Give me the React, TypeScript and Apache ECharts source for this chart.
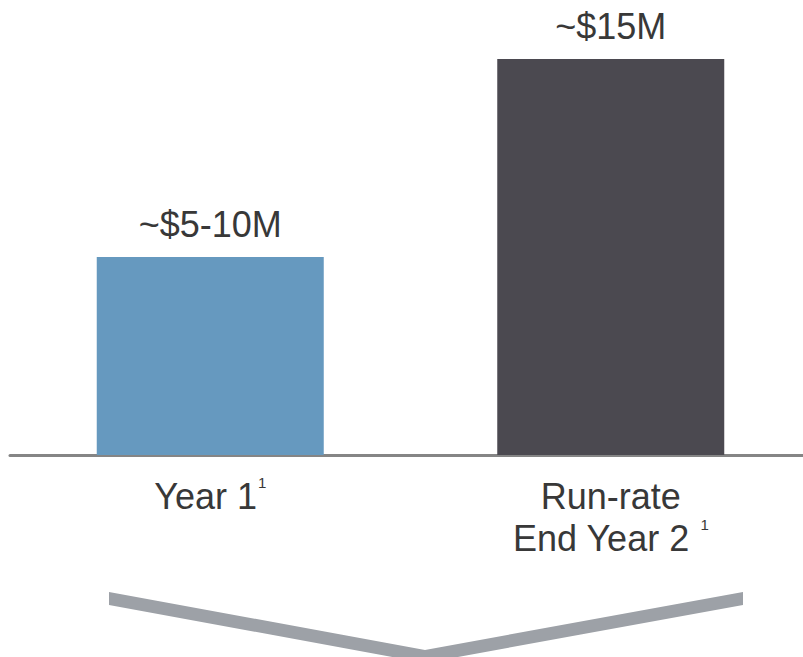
import React, { useEffect, useRef } from "react";
import * as echarts from "echarts";

const categories = ["Year 1", "Run-rate\nEnd Year 2"];
const footnotes = ["1", "1"];
const values = [7.5, 15];
const valueLabels = ["~$5-10M", "~$15M"];
const barColors = ["#6699BF", "#4B4950"];

export default function App() {
  const ref = useRef<HTMLDivElement>(null);
  useEffect(() => {
    document.body.style.margin = "0";
    const chart = echarts.init(ref.current!, undefined, { renderer: "svg" });
    const font = "'Liberation Sans', Arial, sans-serif";
    chart.setOption({
      animation: false,
      grid: {
        left: 10,
        width: 801,
        top: 59,
        bottom: 202,
        containLabel: false,
        outerBoundsMode: "none",
      },
      xAxis: {
        type: "category",
        data: categories,
        axisLine: { show: true, lineStyle: { color: "#858585", width: 3 } },
        axisTick: { show: false },
        axisLabel: {
          margin: 20,
          interval: 0,
          formatter: (v: string, i: number) => {
            const lines = v.split("\n");
            const last = lines.length - 1;
            return lines
              .map((l, k) =>
                k === last
                  ? `{a|${l}${i === 1 ? " " : ""}}{sup|${footnotes[i]}}`
                  : `{a|${l}}`
              )
              .join("\n");
          },
          rich: {
            a: { fontSize: 36, lineHeight: 42, color: "#383838", fontFamily: font },
            sup: {
              fontSize: 15,
              lineHeight: 15,
              verticalAlign: "top",
              color: "#383838",
              fontFamily: font,
              padding: [0, 0, 0, 1],
            },
          },
        },
      },
      yAxis: { type: "value", min: 0, max: 15, show: false, splitLine: { show: false } },
      series: [
        {
          type: "bar",
          barWidth: 227,
          data: values.map((v, i) => ({
            value: v,
            itemStyle: { color: barColors[i] },
            label: { formatter: valueLabels[i] },
          })),
          label: {
            show: true,
            position: "top",
            distance: 13,
            fontSize: 36,
            lineHeight: 40,
            color: "#383838",
            fontFamily: font,
          },
        },
      ],
      graphic: [
        {
          type: "polygon",
          shape: {
            points: [
              [109, 592],
              [425, 650],
              [743, 592],
              [743, 605],
              [425, 663],
              [109, 605],
            ],
          },
          style: { fill: "#9DA1A7" },
        },
      ],
    });
    return () => chart.dispose();
  }, []);
  return <div ref={ref} style={{ width: 803, height: 657 }} />;
}
